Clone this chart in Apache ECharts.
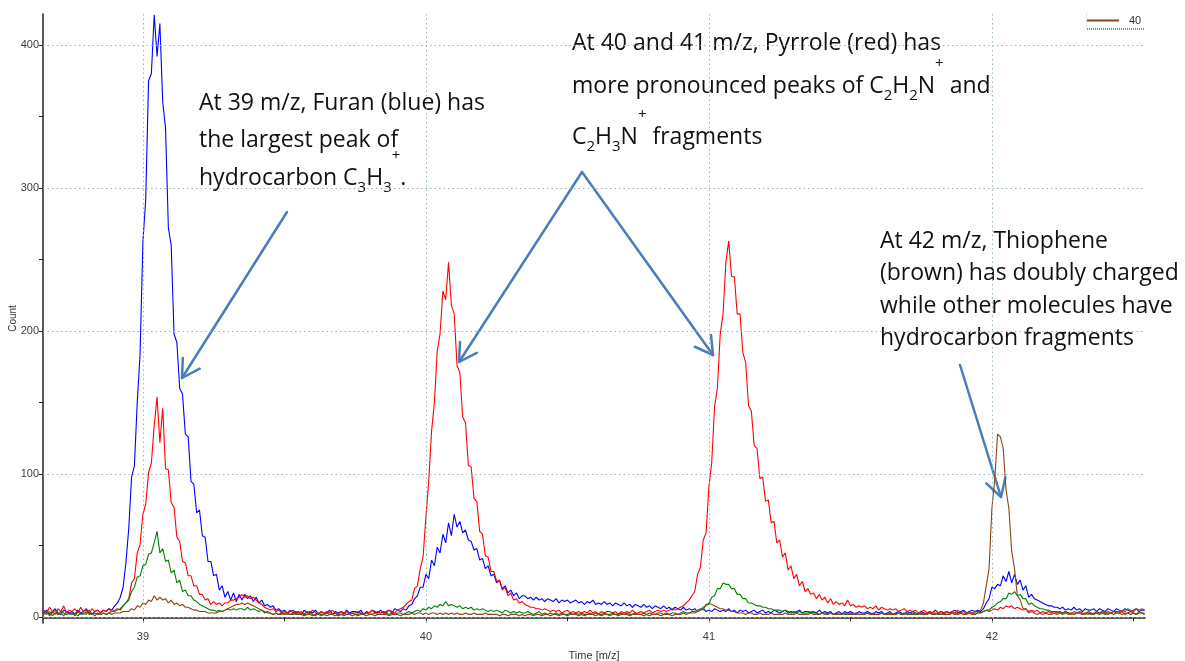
<!DOCTYPE html>
<html><head><meta charset="utf-8">
<script src="https://cdn.jsdelivr.net/npm/echarts@6/dist/echarts.min.js"></script>
<style>html,body{margin:0;padding:0;background:#fff}#c{width:1185px;height:661px}</style>
</head><body><div id="c"></div>
<script>
// x positions: X_START + i * X_STEP (m/z)
const X_START = 38.65, X_STEP = 0.01;
const xTicks = [39, 39.5, 40, 40.5, 41, 41.5, 42, 42.5];
const xLabels = [39, 40, 41, 42];
const yTicks = [0, 50, 100, 150, 200, 250, 300, 350, 400];
const yLabels = [0, 100, 200, 300, 400];

const blueFuran = [
3,5,2,4,6,3,2,5,4,3,
4,2,5,3,4,6,3,2,4,5,
3,5,4,6,5,8,10,14,21,38,
62,98,106,150,184,262,292,375,380,421,
392,415,360,342,272,260,198,192,160,156,
128,126,95,93,73,75,57,56,39,39,
29,30,19,22,14,18,12,17,11,16,
12,16,13,15,11,14,10,12,8,9,
7,8,5,6,4,5,3,4,5,3,
4,2,5,3,4,3,5,2,4,3,
3,5,2,4,3,4,2,5,3,4,
4,3,5,2,4,3,5,4,3,5,
3,4,5,3,6,5,4,6,5,8,
9,13,15,21,21,30,27,40,36,49,
45,58,52,66,57,72,63,67,59,61,
54,53,47,48,40,41,34,36,29,30,
24,26,20,22,17,19,15,17,13,15,
15,13,14,12,14,12,13,11,13,12,
11,13,10,12,11,12,10,11,12,10,
11,9,11,10,12,9,10,9,11,9,
10,8,10,9,8,10,8,9,7,9,
8,7,9,7,8,6,8,7,6,8,
6,7,5,7,6,5,7,5,6,5,
6,4,5,6,4,5,4,6,5,4,
5,4,6,4,5,3,5,4,5,3,
4,5,3,4,5,3,4,3,5,4,
3,4,5,3,4,3,4,5,3,4,
4,3,4,3,5,3,4,3,4,2,
3,4,2,4,3,4,3,2,4,3,
3,4,3,2,4,3,4,2,3,4,
2,3,4,3,2,4,3,4,3,2,
4,3,2,4,3,5,3,4,3,4,
3,4,5,3,4,5,3,4,5,4,
5,4,6,10,13,21,20,23,22,29,
25,32,24,30,23,26,19,22,14,16,
13,12,11,10,9,8,8,7,7,6,
7,5,6,5,7,5,6,4,6,5,
5,6,4,6,5,4,6,5,4,6,
5,4,6,5,4,5,6,4,5,5];

const redPyrrole = [
5,3,7,4,2,6,4,8,3,5,
4,6,3,7,4,5,3,6,4,5,
3,5,4,6,4,5,6,5,8,10,
13,24,27,45,51,72,79,101,108,134,
154,122,146,104,103,80,77,56,53,39,
38,29,29,22,22,16,16,12,13,9,
11,9,10,8,10,10,12,12,13,14,
16,14,15,13,14,12,10,9,7,6,
5,6,4,5,3,4,3,5,3,4,
3,4,2,4,3,5,3,2,4,3,
4,3,5,3,2,4,3,4,2,3,
3,4,3,2,4,3,5,3,4,3,
4,3,5,4,3,5,6,7,9,11,
12,20,22,34,42,70,95,130,150,186,
198,228,222,248,218,212,176,171,140,136,
106,105,83,81,60,58,43,42,32,32,
25,26,19,21,15,17,12,13,10,11,
9,8,7,7,6,6,5,6,5,4,
5,4,5,3,4,5,3,4,3,4,
3,4,3,5,3,4,2,4,3,4,
4,3,4,2,4,3,4,3,5,3,
3,4,3,4,5,3,4,5,4,5,
4,5,6,5,6,7,8,10,12,15,
18,30,35,54,59,91,108,147,160,198,
212,248,263,238,238,212,212,185,178,148,
144,120,118,97,98,81,82,66,67,52,
54,42,45,33,36,27,30,22,25,18,
20,16,17,13,16,12,14,10,13,9,
11,9,10,8,12,8,9,7,8,7,
8,6,7,6,8,5,7,6,5,6,
5,6,4,5,6,4,5,4,5,3,
4,5,3,4,3,5,3,4,3,4,
3,4,3,5,3,4,3,4,3,4,
4,3,4,5,4,5,6,5,7,6,
8,7,8,6,7,6,5,6,4,5,
4,5,3,4,3,4,3,4,3,4,
3,4,3,2,4,3,4,3,2,4,
3,2,4,3,4,3,2,3,4,3,
3,4,2,3,4,3,2,4,3,3];

const greenSeries = [
3,2,4,1,3,2,4,3,2,3,
2,3,1,3,2,4,2,3,1,3,
2,3,2,3,4,4,5,6,8,10,
12,18,21,28,29,36,37,44,45,52,
60,45,48,39,40,31,33,24,26,18,
19,15,15,12,11,9,8,7,6,5,
5,4,5,4,5,6,5,6,5,6,
6,5,7,5,6,5,4,5,3,4,
3,2,3,2,3,2,3,2,2,3,
2,3,2,2,3,2,1,3,2,2,
3,2,2,3,1,2,3,2,2,3,
2,2,3,2,3,2,2,3,2,2,
2,3,2,3,2,3,3,2,3,4,
3,4,5,4,6,5,7,6,8,7,
9,8,11,8,9,8,7,8,6,7,
6,7,5,6,5,6,5,4,5,4,
5,4,3,5,4,3,4,3,4,3,
3,4,3,2,3,4,2,3,2,3,
2,3,2,3,2,2,3,2,3,2,
3,2,2,3,2,3,2,2,3,2,
2,3,2,2,3,2,3,2,2,3,
2,2,3,2,3,2,2,3,3,2,
3,2,3,3,2,3,4,3,3,4,
4,5,6,5,9,9,14,15,20,20,
24,23,23,20,20,16,16,13,13,10,
10,9,8,8,7,7,6,6,5,5,
5,4,5,4,3,4,3,4,3,3,
3,4,3,3,2,3,3,2,3,2,
3,2,3,2,2,3,2,3,2,2,
2,3,2,3,2,2,3,2,2,3,
2,2,3,2,3,2,2,3,2,2,
3,2,2,3,2,3,2,2,3,2,
2,3,2,3,3,2,3,3,2,3,
3,3,4,5,5,7,8,10,11,13,
13,17,16,18,15,16,13,13,9,10,
8,7,6,6,5,5,4,4,4,3,
3,4,3,3,2,3,3,2,3,3,
2,3,3,2,3,2,3,3,2,3,
3,2,3,3,2,3,2,3,3,2];

const brownThiophene = [
2,4,1,3,5,2,3,1,4,2,
3,1,4,2,3,2,5,2,3,2,
2,3,2,3,2,3,3,3,4,4,
4,6,5,8,7,10,9,12,11,15,
12,14,12,13,10,12,9,10,8,9,
7,7,6,5,5,4,4,4,3,3,
3,3,4,4,5,6,7,8,9,9,
10,9,10,9,8,7,6,5,4,3,
3,2,3,2,2,3,2,2,3,2,
2,2,1,2,2,1,2,2,1,2,
1,2,2,1,2,2,1,2,2,1,
2,1,2,2,1,2,2,1,2,2,
2,2,1,2,2,2,1,2,2,2,
3,2,3,3,2,3,2,3,3,2,
3,2,3,2,3,2,3,2,2,3,
2,2,3,2,2,2,3,2,2,2,
2,1,2,2,1,2,2,2,1,2,
1,2,2,1,2,2,1,2,2,1,
2,2,1,2,2,1,2,2,2,1,
2,1,2,2,2,1,2,1,2,2,
1,2,2,1,2,2,2,1,2,2,
2,2,1,2,1,2,2,2,1,2,
2,2,1,2,2,2,3,2,3,3,
3,4,5,7,8,10,9,8,7,6,
6,5,5,4,4,3,3,3,2,3,
3,2,2,3,2,2,2,3,2,2,
2,2,3,2,2,2,3,2,2,2,
2,3,2,2,2,3,2,2,3,2,
2,2,2,3,2,2,2,3,2,2,
2,3,2,2,2,2,3,2,2,2,
2,2,3,2,2,3,2,2,2,3,
2,2,2,3,2,2,3,2,2,2,
2,3,2,2,3,2,2,3,2,2,
3,5,10,22,34,76,96,128,126,118,
89,76,46,34,15,12,6,6,3,4,
3,2,3,2,3,2,2,3,2,3,
2,3,2,3,2,3,3,2,3,2,
3,2,3,3,4,3,4,3,4,4,
4,5,4,6,5,4,6,5,6,5];

function pairs(arr) {
  return arr.map((v, i) => [Math.round((X_START + i * X_STEP) * 100) / 100, v]);
}

const narrow = "'Liberation Sans Narrow', 'Liberation Sans', Arial, sans-serif";
const annoFont = "'Open Sans', Lato, sans-serif";
const arrowColor = '#4a7ebb';

function arrow(x1, y1, x2, y2) {
  const dx = x1 - x2, dy = y1 - y2, L = Math.hypot(dx, dy);
  const ux = dx / L, uy = dy / L, a = Math.PI / 6, bl = 20;
  const r = (ang) => [x2 + bl * (ux * Math.cos(ang) - uy * Math.sin(ang)), y2 + bl * (ux * Math.sin(ang) + uy * Math.cos(ang))];
  const b1 = r(a), b2 = r(-a);
  const st = { stroke: arrowColor, lineWidth: 2.5, fill: null, lineCap: 'round', lineJoin: 'round' };
  return [
    { type: 'polyline', shape: { points: [[x1, y1], [x2, y2]] }, style: st, silent: true },
    { type: 'polyline', shape: { points: [b1, [x2, y2], b2] }, style: st, silent: true }
  ];
}

const rich = {
  sub: { fontSize: 15, fontFamily: annoFont, fill: '#111', padding: [20, 0, 0, 0] },
  sup: { fontSize: 15, fontFamily: annoFont, fill: '#111', padding: [0, 0, 44, 0] }
};
function line(txt, x, y) {
  return { type: 'text', x: x, y: y, silent: true,
    style: { text: txt, fontSize: 23, fontFamily: annoFont, fill: '#111', verticalAlign: 'middle', align: 'left', rich: rich } };
}

const chart = echarts.init(document.getElementById('c'), null, { renderer: 'canvas' });
chart.setOption({
  animation: false,
  backgroundColor: '#fff',
  grid: { left: 43, right: 40, top: 14, bottom: 38, containLabel: false, outerBoundsMode: 'none' },
  legend: {
    data: ['40'], left: 1087, top: 15, padding: 0, icon: 'rect', itemWidth: 32, itemHeight: 2,
    textStyle: { fontSize: 11, fontFamily: narrow, color: '#333', padding: [0, 0, 0, 5] },
    selectedMode: false
  },
  xAxis: {
    type: 'value', min: 38.647, max: 42.541,
    name: 'Time [m/z]', nameLocation: 'middle', nameGap: 27, nameMoveOverlap: false,
    nameTextStyle: { fontSize: 11, fontFamily: narrow, color: '#333' },
    axisLine: { lineStyle: { color: '#222', width: 1.5 } },
    axisTick: { customValues: xTicks, length: 4, lineStyle: { color: '#222' } },
    axisLabel: { customValues: xLabels, fontSize: 11, fontFamily: narrow, color: '#3c3c3c', margin: 8 },
    splitLine: { show: false }
  },
  yAxis: {
    type: 'value', min: -4, max: 421.6,
    name: 'Count', nameLocation: 'middle', nameGap: 25, nameMoveOverlap: false,
    nameTextStyle: { fontSize: 10, fontFamily: narrow, color: '#333' },
    axisLine: { show: true, lineStyle: { color: '#222', width: 1.5 } },
    axisTick: { show: true, customValues: yTicks, length: 4, lineStyle: { color: '#222' } },
    axisLabel: { customValues: yLabels, fontSize: 11, fontFamily: narrow, color: '#3c3c3c', margin: 4 },
    splitLine: { show: false }
  },
  series: [
    { type: 'line', name: 'grid', data: [], silent: true,
      markLine: { silent: true, symbol: ['none', 'none'], label: { show: false },
        lineStyle: { type: [1.5, 3], color: '#94bbb4', width: 1 },
        data: xLabels.map(v => ({ xAxis: v })).concat(yLabels.map(v => ({ yAxis: v }))) } },
    { type: 'line', name: 'Furan', data: pairs(blueFuran), showSymbol: false, symbol: 'none',
      lineStyle: { color: '#0000ff', width: 1.1 }, itemStyle: { color: '#0000ff' } },
    { type: 'line', name: 'Pyrrole', data: pairs(redPyrrole), showSymbol: false, symbol: 'none',
      lineStyle: { color: '#ff0000', width: 1.1 }, itemStyle: { color: '#ff0000' } },
    { type: 'line', name: 'Other', data: pairs(greenSeries), showSymbol: false, symbol: 'none',
      lineStyle: { color: '#008000', width: 1.1 }, itemStyle: { color: '#008000' } },
    { type: 'line', name: '40', data: pairs(brownThiophene), showSymbol: false, symbol: 'none',
      lineStyle: { color: '#8b4513', width: 1.1 }, itemStyle: { color: '#8b4513' } }
  ],
  graphic: [
    { type: 'line', shape: { x1: 1087, y1: 29, x2: 1145, y2: 29 }, style: { stroke: '#8a8a8a', lineWidth: 2, lineDash: [1, 1] }, silent: true },
    { type: 'line', shape: { x1: 1086.5, y1: 13, x2: 1086.5, y2: 28 }, style: { stroke: '#e2e2e2', lineWidth: 1 }, silent: true },
    line('At 39 m/z, Furan (blue) has', 199, 103),
    line('the largest peak of', 199, 140),
    line('hydrocarbon C{sub|3}H{sub|3}{sup|+}.', 199, 178),
    line('At 40 and 41 m/z, Pyrrole (red) has', 572, 43),
    line('more pronounced peaks of C{sub|2}H{sub|2}N{sup|+} and', 572, 86),
    line('C{sub|2}H{sub|3}N{sup|+} fragments', 572, 137),
    line('At 42 m/z, Thiophene', 880, 241),
    line('(brown) has doubly charged', 880, 273),
    line('while other molecules have', 880, 306),
    line('hydrocarbon fragments', 880, 338)
  ].concat(arrow(287, 212, 182, 378), arrow(582, 172, 459, 362), arrow(582, 172, 713, 355), arrow(960, 365, 1001, 497))
});
</script></body></html>
